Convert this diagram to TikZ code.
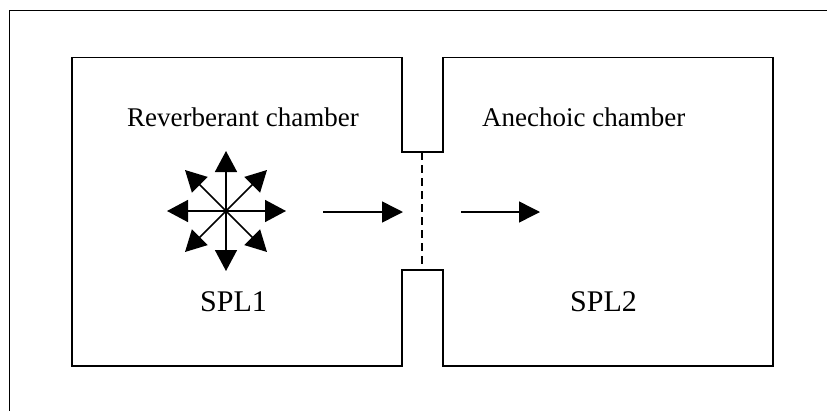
\documentclass[tikz,border=0pt]{standalone}
\usepackage{fontspec}
\setmainfont{Liberation Serif}
\usetikzlibrary{arrows.meta}
\begin{document}
\begin{tikzpicture}[x=1pt,y=-1pt,
  wall/.style={line width=1.6pt,line join=miter},
  flow/.style={line width=1.5pt,-{Triangle[length=21pt,width=21pt]}},
  ray/.style={line width=1.5pt,-{Triangle[length=21pt,width=22pt]}},
  lbl/.style={font=\fontsize{27}{30}\selectfont,inner sep=0pt,anchor=base west},
  big/.style={font=\fontsize{30}{34}\selectfont,inner sep=0pt,anchor=base west}]
\useasboundingbox (0,0) rectangle (827,410);
% outer frame (only top and left visible)
\draw[line width=1.5pt] (9.5,412) -- (9.5,10.5) -- (830,10.5);
% chambers
\draw[wall] (72,57.5) -- (402,57.5) -- (402,152) -- (443,152) -- (443,57.5)
  -- (773,57.5) -- (773,366) -- (443,366) -- (443,270) -- (402,270)
  -- (402,366) -- (72,366) -- cycle;
% opening
\coordinate (ot) at (422,152);
\coordinate (ob) at (422,270);
\draw[line width=1.3pt,dash pattern=on 8pt off 5pt] (ot) -- (ob);
% labels
\node[lbl] (rev) at (127,126) {Reverberant chamber};
\node[lbl] (ane) at (482,126) {Anechoic chamber};
\node[big] (spl1) at (200,311) {SPL1};
\node[big] (spl2) at (570,311) {SPL2};
% flow arrows
\coordinate (a1s) at (323,212);
\coordinate (a1e) at (403,212);
\coordinate (a2s) at (461,212);
\coordinate (a2e) at (540,212);
\draw[flow] (a1s) -- (a1e);
\draw[flow] (a2s) -- (a2e);
% diffuse source
\coordinate (c) at (226,211);
\coordinate (tN) at (226,151);
\coordinate (tS) at (226,271);
\coordinate (tW) at (167,211);
\coordinate (tE) at (286,211);
\coordinate (tNW) at (185,170);
\coordinate (tNE) at (267,170);
\coordinate (tSW) at (185,252);
\coordinate (tSE) at (267,252);
\foreach \t in {tN,tS,tW,tE,tNW,tNE,tSW,tSE} \draw[ray] (c) -- (\t);
\end{tikzpicture}
\end{document}
